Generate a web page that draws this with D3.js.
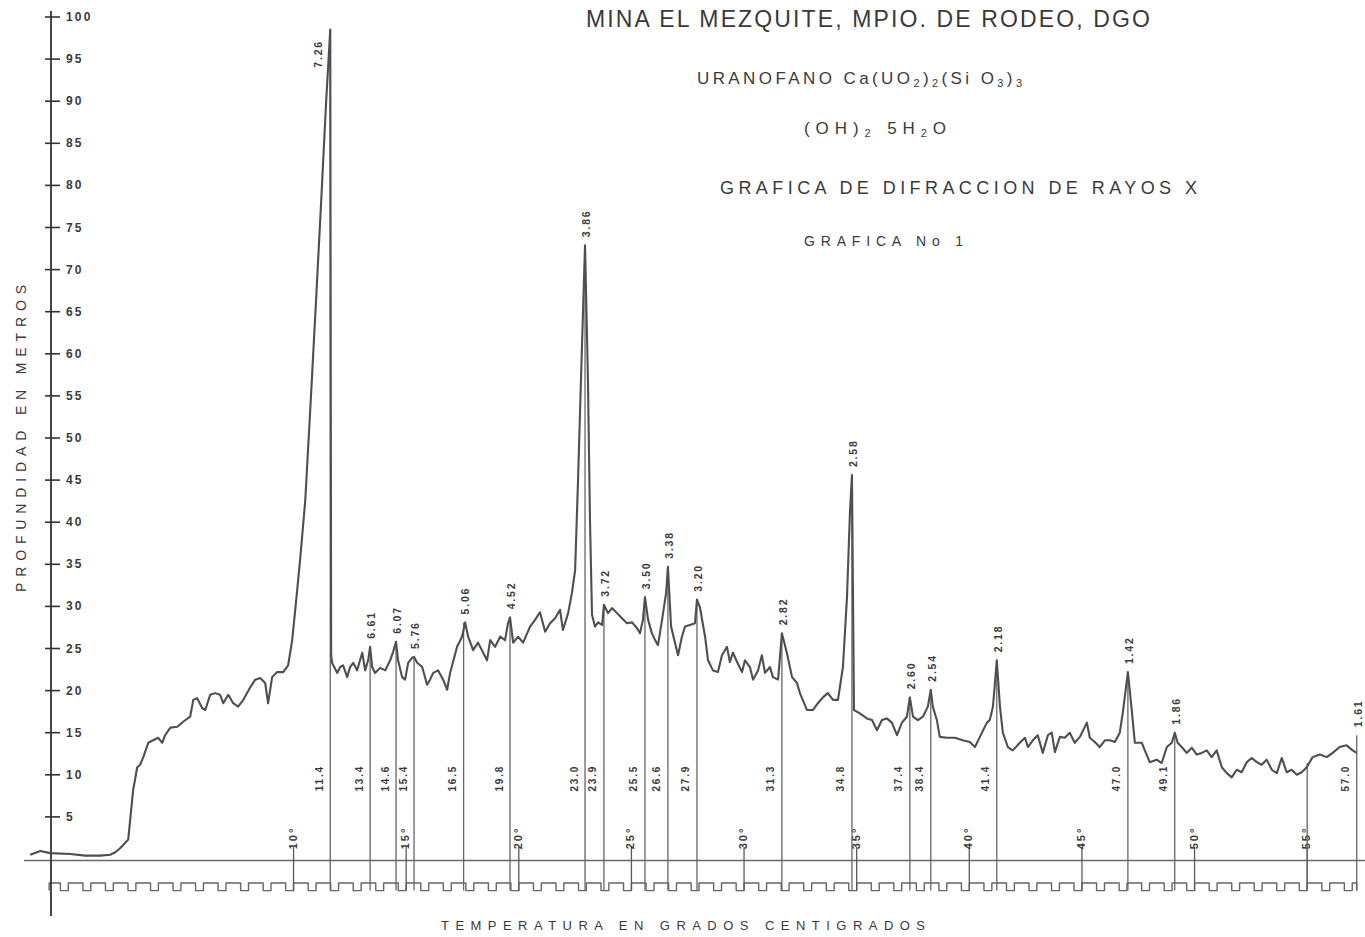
<!DOCTYPE html>
<html>
<head>
<meta charset="utf-8">
<script src="https://cdn.jsdelivr.net/npm/d3@7"></script>
<style>
  html, body { margin: 0; padding: 0; background: #ffffff; }
  svg { display: block; }
  text { font-family: "Liberation Sans", "DejaVu Sans", sans-serif; fill: #3a3a3a; }
</style>
</head>
<body>
<svg id="chart" width="1365" height="937"></svg>
<script>
// ---------------- DATA ----------------
// Diffraction trace: angle (2θ, degrees) and intensity (axis units 0-100)
const traceDeg = [
  -1.69,-1.24,-0.80,0.09,0.75,1.42,1.86,2.09,2.31,2.66,2.88,3.06,3.19,3.33,3.55,3.77,3.99,4.17,4.30,4.53,
  4.84,5.10,5.41,5.55,5.72,5.95,6.08,6.30,6.52,6.74,6.88,7.10,7.32,7.54,7.77,8.08,8.30,8.52,8.74,8.87,
  9.05,9.27,9.54,9.76,9.85,9.94,10.12,10.29,10.52,10.74,11.00,11.23,11.45,11.63,11.67,11.71,11.94,12.07,12.20,12.38,
  12.51,12.65,12.82,13.05,13.18,13.31,13.40,13.49,13.62,13.84,14.07,14.29,14.42,14.55,14.64,14.82,14.95,15.09,15.26,15.35,
  15.49,15.71,15.93,16.06,16.20,16.42,16.64,16.82,16.95,17.26,17.48,17.62,17.75,17.97,18.19,18.42,18.59,18.73,18.95,19.17,
  19.39,19.52,19.61,19.75,19.97,20.19,20.50,20.72,20.94,21.17,21.39,21.61,21.83,21.96,22.19,22.36,22.50,22.63,22.76,22.94,
  23.07,23.16,23.25,23.38,23.52,23.70,23.78,23.96,24.14,24.36,24.58,24.80,25.03,25.25,25.38,25.51,25.60,25.74,25.91,26.05,
  26.18,26.36,26.54,26.62,26.76,26.93,27.07,27.24,27.38,27.60,27.82,27.91,28.04,28.27,28.40,28.62,28.84,29.02,29.24,29.37,
  29.51,29.69,29.91,30.04,30.26,30.40,30.62,30.79,30.93,31.15,31.28,31.51,31.68,31.90,32.13,32.35,32.48,32.79,33.06,33.28,
  33.50,33.72,33.95,34.17,34.39,34.57,34.70,34.79,34.83,34.88,35.14,35.45,35.68,35.90,36.12,36.34,36.56,36.79,37.01,37.23,
  37.36,37.50,37.72,37.94,38.16,38.29,38.38,38.56,38.69,39.00,39.36,39.71,40.02,40.25,40.47,40.78,40.91,41.05,41.22,41.36,
  41.49,41.71,41.93,42.24,42.47,42.60,42.82,43.04,43.26,43.49,43.66,43.80,44.02,44.24,44.46,44.68,44.91,45.22,45.35,45.57,
  45.79,46.02,46.24,46.46,46.68,46.81,47.04,47.21,47.35,47.66,47.79,48.01,48.32,48.54,48.77,48.99,49.12,49.25,49.43,49.65,
  49.88,50.10,50.32,50.54,50.76,50.98,51.21,51.43,51.65,51.87,52.09,52.32,52.54,52.76,52.98,53.20,53.43,53.65,53.87,54.09,
  54.31,54.54,54.76,54.98,55.24,55.56,55.87,56.13,56.44,56.75,57.02,57.20
];
const traceVal = [
  0.5,0.95,0.7,0.6,0.4,0.4,0.5,0.8,1.3,2.3,8.2,10.9,11.2,12.1,13.8,14.1,14.4,13.8,14.7,15.6,
  15.7,16.3,16.9,18.9,19.1,17.9,17.7,19.5,19.7,19.5,18.5,19.5,18.5,18.1,18.9,20.4,21.3,21.5,20.9,18.5,
  21.6,22.2,22.2,23.0,24.5,26.0,30.8,35.5,42.6,53.3,66.4,78.3,90.1,98.5,24.2,23.3,22.1,22.8,23.0,21.6,
  22.8,23.3,22.4,24.5,22.4,23.6,25.2,22.8,22.1,22.7,22.4,23.6,24.6,25.8,23.6,21.6,21.3,23.3,23.9,24.0,
  23.3,22.8,20.7,21.3,22.1,22.4,21.3,20.1,22.1,25.2,26.4,28.1,26.4,24.8,25.7,24.5,23.6,26.0,25.2,26.4,
  26.0,28.0,28.7,25.7,26.4,25.7,27.6,28.4,29.3,27.0,28.0,28.6,29.6,27.2,29.2,31.6,34.3,45.0,56.9,72.9,
  56.9,40.3,29.0,27.6,28.1,27.8,30.2,29.2,29.8,29.2,28.6,28.0,28.1,27.4,26.8,28.4,31.1,28.4,26.8,26.0,
  25.4,28.4,31.6,34.7,27.6,25.7,24.2,26.4,27.6,27.8,28.0,30.8,29.9,26.4,23.6,22.4,22.2,24.2,25.2,23.4,
  24.5,23.4,22.2,23.6,22.8,21.3,22.4,24.2,22.1,22.8,21.6,21.3,26.8,24.5,21.6,20.9,19.7,17.7,17.7,18.5,
  19.2,19.7,18.9,18.9,22.8,31.1,41.1,45.6,33.1,17.7,17.3,16.7,16.5,15.3,16.5,16.7,16.2,14.7,16.2,16.9,
  19.2,16.9,16.5,16.9,18.1,20.1,18.1,16.5,14.5,14.4,14.4,14.1,13.9,13.3,14.5,16.2,16.5,18.1,23.6,18.1,
  15.0,13.3,12.9,13.8,14.4,13.3,14.1,14.7,12.6,14.7,15.0,12.7,14.5,14.4,15.0,13.8,14.5,16.2,14.4,13.9,
  13.3,14.1,14.1,13.9,15.0,17.3,22.2,17.7,13.8,13.8,12.9,11.5,11.8,11.4,13.3,13.8,15.0,13.8,13.3,12.6,
  13.2,12.4,12.6,12.9,12.1,12.9,10.9,10.2,9.7,10.6,10.3,11.5,12.0,11.5,11.2,11.8,10.6,10.2,12.0,10.3,
  10.6,10.0,10.3,10.9,12.1,12.4,12.1,12.6,13.3,13.5,12.9,12.6
];

// Marked reflections: position (2θ), line top (axis units), angle label, d-spacing label
const peakDeg   = [11.63, 13.40, 14.55, 15.35, 17.55, 19.61, 22.94, 23.78, 25.60, 26.62, 27.91, 31.68, 34.79, 37.36, 38.29, 41.22, 47.04, 49.12, 55.0, 57.20];
const peakTop   = [98.5, 25.2, 25.8, 24.0, 28.1, 28.7, 72.9, 30.2, 31.1, 34.7, 30.8, 26.8, 45.6, 19.2, 20.1, 23.6, 22.2, 15.0, 11.4, 14.7];
const peakAngle = ["11.4","13.4","14.6","15.4","16.5","19.8","23.0","23.9","25.5","26.6","27.9","31.3","34.8","37.4","38.4","41.4","47.0","49.1","","57.0"];
const peakD     = ["7.26","6.61","6.07","5.76","5.06","4.52","3.86","3.72","3.50","3.38","3.20","2.82","2.58","2.60","2.54","2.18","1.42","1.86","","1.61"];

// Degree marks on the lower scale
const degTicks = [10, 15, 20, 25, 30, 35, 40, 45, 50, 55];
// Vertical axis ticks
const yTicks = [5,10,15,20,25,30,35,40,45,50,55,60,65,70,75,80,85,90,95,100];

// Texts
const titleLines = [
  "MINA  EL MEZQUITE, MPIO. DE RODEO, DGO",
  "GRAFICA  DE DIFRACCION DE RAYOS X",
  "GRAFICA  No 1"
];
const yTitle = "PROFUNDIDAD EN METROS";
const xTitle = "TEMPERATURA EN GRADOS CENTIGRADOS";

// ---------------- DRAW ----------------
const svg = d3.select("#chart");
const ink = "#4f4f4f";

const x = d3.scaleLinear().domain([-1.7, 57.3]).range([30, 1359]);
const y = d3.scaleLinear().domain([0, 100]).range([859, 17]);

const waveHigh = -2.85, waveLow = -3.75;
const axisX = 51;

// baseline (zero line)
svg.append("line")
  .attr("x1", 24).attr("x2", 1365)
  .attr("y1", y(0) + 1.5).attr("y2", y(0) + 1.5)
  .attr("stroke", "#6a6a6a").attr("stroke-width", 1.5);

// square timing wave
const wavePts = [];
for (let k = -1; k <= 57; k++) {
  const a = Math.max(k, -0.85), b = Math.min(k + 0.65, 57.2), c = Math.min(k + 1, 57.2);
  if (a < b) { wavePts.push([a, waveLow], [a, waveHigh], [b, waveHigh], [b, waveLow]); }
  if (b < c) { wavePts.push([b, waveLow], [c, waveLow]); }
}
svg.append("path")
  .attr("d", d3.line().x(d => x(d[0])).y(d => y(d[1]))(wavePts))
  .attr("fill", "none").attr("stroke", "#666").attr("stroke-width", 1.4)
  .attr("stroke-linejoin", "round");

// degree tick marks and labels
const dt = svg.append("g");
dt.selectAll("line").data(degTicks).join("line")
  .attr("x1", d => x(d)).attr("x2", d => x(d))
  .attr("y1", y(waveLow)).attr("y2", y(0) - 12)
  .attr("stroke", "#5a5a5a").attr("stroke-width", 1.3);
dt.selectAll("text").data(degTicks).join("text")
  .attr("transform", d => `translate(${x(d) - 1},${y(0) - 21}) rotate(-90)`)
  .attr("text-anchor", "middle").attr("dominant-baseline", "central")
  .attr("font-size", 11).attr("font-weight", "bold").attr("letter-spacing", 2)
  .text(d => d + "°");

// y axis
svg.append("line")
  .attr("x1", axisX).attr("x2", axisX)
  .attr("y1", y(100) - 6).attr("y2", 916)
  .attr("stroke", "#333").attr("stroke-width", 1.8);
const yt = svg.append("g");
yt.selectAll("line").data(yTicks).join("line")
  .attr("x1", axisX - 6).attr("x2", axisX + 9)
  .attr("y1", d => y(d)).attr("y2", d => y(d))
  .attr("stroke", "#333").attr("stroke-width", 1.6);
yt.selectAll("text").data(yTicks).join("text")
  .attr("x", axisX + 15).attr("y", d => y(d))
  .attr("dominant-baseline", "central")
  .attr("font-size", 12).attr("font-weight", "bold").attr("letter-spacing", 2.2)
  .attr("fill", "#333")
  .text(d => d);

// peak marker lines
const pk = d3.range(peakDeg.length);
svg.append("g").selectAll("line").data(pk).join("line")
  .attr("x1", i => x(peakDeg[i])).attr("x2", i => x(peakDeg[i]))
  .attr("y1", y(waveLow)).attr("y2", i => y(peakTop[i]))
  .attr("stroke", "#666").attr("stroke-width", 1.3);

// the trace
svg.append("path")
  .attr("d", d3.line().x((d, i) => x(traceDeg[i])).y(d => y(d))(traceVal))
  .attr("fill", "none").attr("stroke", ink).attr("stroke-width", 2.1)
  .attr("stroke-linejoin", "round");

// angle labels (lower)
svg.append("g").selectAll("text").data(pk.filter(i => peakAngle[i])).join("text")
  .attr("transform", i => `translate(${x(peakDeg[i]) - 11},${y(9.6)}) rotate(-90)`)
  .attr("text-anchor", "middle").attr("dominant-baseline", "central")
  .attr("font-size", 10).attr("font-weight", "bold").attr("letter-spacing", 1.8)
  .attr("fill", "#444")
  .text(i => peakAngle[i]);

// d-spacing labels (upper)
svg.append("g").selectAll("text").data(pk.filter(i => peakD[i])).join("text")
  .attr("transform", i => peakTop[i] > 90
      ? `translate(${x(peakDeg[i]) - 12},${y(peakTop[i]) + 38}) rotate(-90)`
      : `translate(${x(peakDeg[i]) + 1},${y(peakTop[i]) - 8}) rotate(-90)`)
  .attr("text-anchor", "start").attr("dominant-baseline", "central")
  .attr("font-size", 10.5).attr("font-weight", "bold").attr("letter-spacing", 1.8)
  .attr("fill", "#333")
  .text(i => peakD[i]);

// titles
const tt = svg.append("g").attr("fill", "#4a4a4a");
tt.append("text").attr("x", 586).attr("y", 27)
  .attr("font-size", 23).attr("textLength", 564).attr("lengthAdjust", "spacing")
  .text(titleLines[0]);

const f1 = tt.append("text").attr("x", 697).attr("y", 84).attr("font-size", 17)
  .attr("textLength", 325).attr("lengthAdjust", "spacing");
f1.append("tspan").text("URANOFANO  Ca(UO");
f1.append("tspan").attr("font-size", 11).attr("dy", 3).text("2");
f1.append("tspan").attr("dy", -3).text(")");
f1.append("tspan").attr("font-size", 11).attr("dy", 3).text("2");
f1.append("tspan").attr("dy", -3).text("(Si O");
f1.append("tspan").attr("font-size", 11).attr("dy", 3).text("3");
f1.append("tspan").attr("dy", -3).text(")");
f1.append("tspan").attr("font-size", 11).attr("dy", 3).text("3");

const f2 = tt.append("text").attr("x", 804).attr("y", 134).attr("font-size", 17)
  .attr("textLength", 142).attr("lengthAdjust", "spacing");
f2.append("tspan").text("(OH)");
f2.append("tspan").attr("font-size", 11).attr("dy", 3).text("2");
f2.append("tspan").attr("dy", -3).text(" 5H");
f2.append("tspan").attr("font-size", 11).attr("dy", 3).text("2");
f2.append("tspan").attr("dy", -3).text("O");

tt.append("text").attr("x", 720).attr("y", 194)
  .attr("font-size", 18).attr("textLength", 477).attr("lengthAdjust", "spacing")
  .text(titleLines[1]);
tt.append("text").attr("x", 804).attr("y", 246)
  .attr("font-size", 14).attr("textLength", 159).attr("lengthAdjust", "spacing")
  .text(titleLines[2]);

// axis titles
svg.append("text")
  .attr("transform", "translate(26,592) rotate(-90)")
  .attr("font-size", 14).attr("textLength", 307).attr("lengthAdjust", "spacing")
  .attr("fill", "#3a3a3a")
  .text(yTitle);
svg.append("text")
  .attr("x", 441).attr("y", 930)
  .attr("font-size", 13).attr("textLength", 484).attr("lengthAdjust", "spacing")
  .attr("fill", "#3a3a3a")
  .text(xTitle);
</script>
</body>
</html>
